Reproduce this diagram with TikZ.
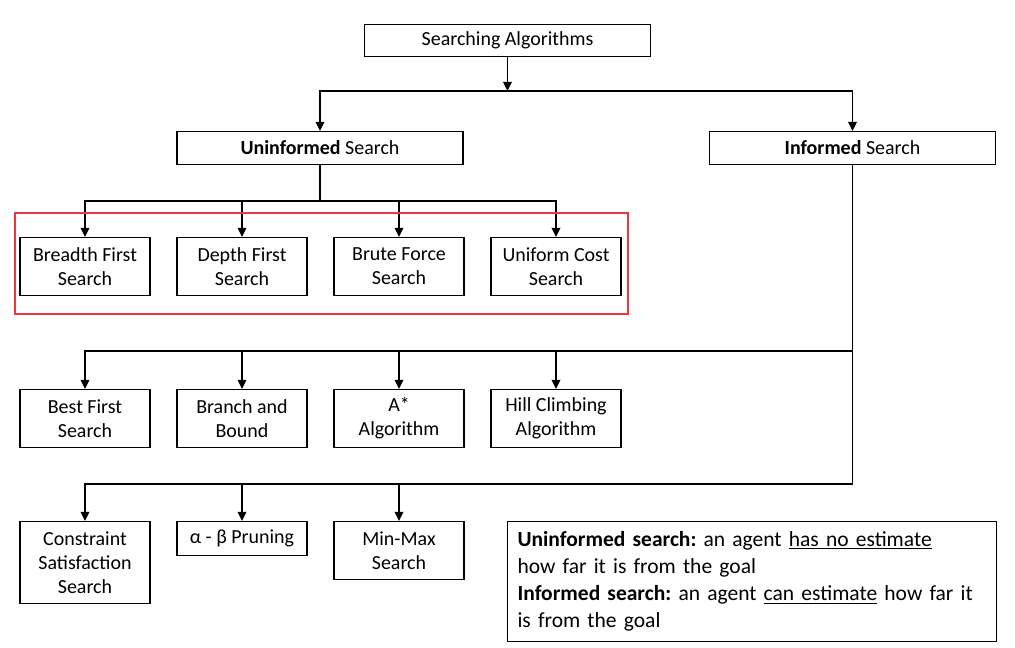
\documentclass[tikz,border=0pt]{standalone}
\usepackage{fontspec}
\setmainfont{Carlito}
\usetikzlibrary{arrows.meta,positioning}
\definecolor{framered}{RGB}{235,55,65}
\frenchspacing
\begin{document}
\begin{tikzpicture}[x=0.025cm, y=-0.025cm,
    topbox/.style={rectangle, draw=black, line width=0.8pt, minimum width=7.15cm, minimum height=0.82cm, align=center, font=\fontsize{14.2}{17}\selectfont},
    leafbox/.style={rectangle, draw=black, line width=0.8pt, minimum width=3.25cm, minimum height=1.45cm, align=center, inner sep=1pt, anchor=north, execute at begin node=\vphantom{Bd}, font=\fontsize{14.2}{17}\selectfont},
    notebox/.style={rectangle, draw=black, line width=0.8pt, anchor=north west, text width=11.72cm, minimum height=3cm, inner xsep=0.25cm, inner ysep=2pt, align=left, font=\fontsize{15.3}{19.3}\selectfont},
    arr/.style={-{Triangle[length=6.5pt,width=6pt]}, line width=1.4pt},
    bus/.style={line width=1.4pt},
    groupframe/.style={draw=framered, line width=0.8pt},
  ]
    \useasboundingbox (0,0) rectangle (1015,647);

    % Root and first split
    \node[topbox] (root) at (507.5,40.5) {Searching Algorithms};
    \node[topbox] (uninf) at (320,148) {\textbf{Uninformed} Search};
    \node[topbox] (inf) at (852.5,148) {\textbf{Informed} Search};

    \coordinate (split) at (507.5,91);
    \draw[arr] (root) -- (split);
    \draw[arr] (split) -| (uninf);
    \draw[arr] (split) -| (inf);

    % Uninformed methods
    \node[leafbox] (bfs) at (85,237) {Breadth First\\Search};
    \node[leafbox] (dfs) at (242,237) {Depth First\\Search};
    \node[leafbox] (bru) at (399,237) {Brute Force\\Search};
    \node[leafbox] (ucs) at (556,237) {Uniform Cost\\Search};

    \coordinate (ubus) at (320,201);
    \draw[bus] (uninf) -- (ubus);
    \foreach \n in {bfs,dfs,bru,ucs}
      \draw[arr] (ubus) -| (\n);

    \draw[groupframe] (15,213) rectangle (628,314);

    % Informed methods
    \node[leafbox] (best) at (85,389) {Best First\\Search};
    \node[leafbox] (bnb) at (242,389) {Branch and\\Bound};
    \node[leafbox] (astar) at (399,389) {A*\\Algorithm};
    \node[leafbox] (hill) at (556,389) {Hill Climbing\\Algorithm};

    \node[leafbox, minimum height=2.05cm] (csp) at (85,521) {Constraint\\Satisfaction\\Search};
    \node[leafbox, minimum height=0.85cm] (ab) at (242,521) {α - β Pruning};
    \node[leafbox] (mm) at (399,521) {Min-Max\\Search};

    \coordinate (ibus1) at (852.5,351);
    \coordinate (ibus2) at (852.5,484);
    \draw[bus] (inf) -- (ibus2);
    \foreach \n in {best,bnb,astar,hill}
      \draw[arr] (ibus1) -| (\n);
    \foreach \n in {csp,ab,mm}
      \draw[arr] (ibus2) -| (\n);

    % Legend
    \node[notebox] (note) at (507,521) {\textbf{Uninformed search:} an agent \underline{has no estimate}\\how far it is from the goal\\\textbf{Informed search:} an agent \underline{can estimate} how far it\\is from the goal};
\end{tikzpicture}
\end{document}
